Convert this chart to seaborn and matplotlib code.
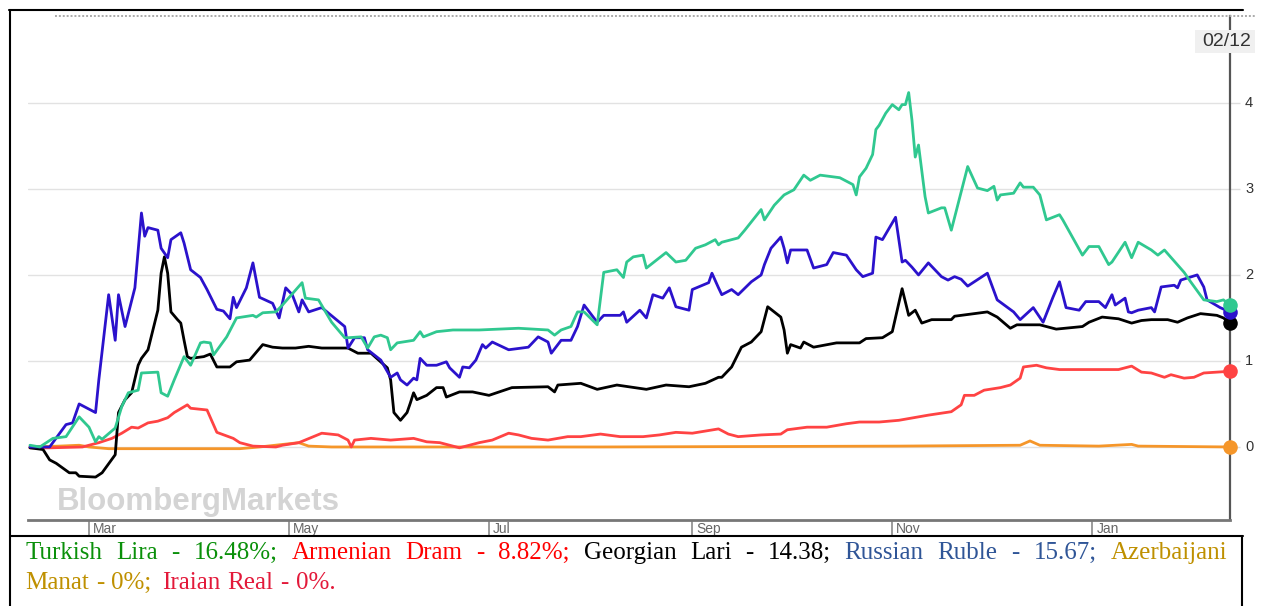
import pandas as pd
import matplotlib
matplotlib.use("Agg")
import matplotlib.pyplot as plt
import matplotlib.dates as mdates
from matplotlib.lines import Line2D
from matplotlib.patches import Rectangle
from matplotlib.transforms import Bbox, TransformedBbox, blended_transform_factory, offset_copy
import seaborn as sns

START = "2020-02-12"
END = "2021-02-12"

# days since START, value (tens of percent vs START)
lira_day = [0, 3, 7, 11, 15, 18, 20, 21, 22, 26, 28, 30, 33, 34, 39, 40, 42, 44, 47, 49,
            52, 53, 55, 56, 60, 63, 68, 69, 71, 75, 77, 83, 84, 88, 92, 96, 97, 101, 103, 105,
            107, 109, 110, 112, 117, 119, 120, 124, 129, 137, 149, 158, 160, 162, 165, 167, 169, 173, 175, 179,
            181, 182, 184, 187, 188, 194, 197, 200, 203, 206, 209, 210, 211, 216, 218, 223, 224, 227, 230, 233,
            236, 238, 241, 247, 251, 252, 253, 255, 257, 258, 259, 261, 263, 265, 266, 267, 268, 269, 270, 271,
            273, 274, 278, 279, 281, 286, 289, 292, 294, 295, 296, 300, 302, 303, 306, 308, 310, 314, 315, 321,
            323, 326, 329, 330, 334, 336, 338, 342, 344, 346, 352, 354, 358, 362, 364, 366]
lira_val = [0.02, 0.00, 0.10, 0.12, 0.35, 0.23, 0.06, 0.12, 0.09, 0.22, 0.47, 0.63, 0.66, 0.86, 0.87, 0.63, 0.59, 0.78, 1.05, 0.95,
            1.21, 1.22, 1.21, 1.07, 1.28, 1.50, 1.53, 1.51, 1.56, 1.57, 1.65, 1.91, 1.73, 1.71, 1.45, 1.27, 1.27, 1.28, 1.15, 1.28,
            1.30, 1.27, 1.13, 1.21, 1.24, 1.34, 1.28, 1.34, 1.36, 1.36, 1.38, 1.36, 1.30, 1.36, 1.40, 1.57, 1.57, 1.42, 2.03, 2.06,
            1.97, 2.15, 2.21, 2.23, 2.08, 2.26, 2.15, 2.17, 2.31, 2.35, 2.41, 2.35, 2.38, 2.43, 2.52, 2.76, 2.64, 2.81, 2.93, 2.99,
            3.16, 3.10, 3.16, 3.13, 3.05, 2.93, 3.14, 3.24, 3.40, 3.69, 3.74, 3.88, 3.98, 3.92, 3.98, 3.98, 4.12, 3.80, 3.37, 3.51,
            2.91, 2.72, 2.78, 2.78, 2.52, 3.26, 3.01, 2.98, 3.03, 2.87, 2.93, 2.95, 3.07, 3.02, 3.02, 2.93, 2.64, 2.70, 2.64, 2.23,
            2.33, 2.33, 2.12, 2.15, 2.38, 2.20, 2.38, 2.29, 2.23, 2.29, 2.03, 1.92, 1.71, 1.69, 1.71, 1.65]

dram_day = [0, 6, 16, 21, 25, 28, 31, 33, 36, 39, 42, 44, 48, 49, 54, 57, 62, 64, 68, 75,
            77, 82, 89, 94, 97, 98, 99, 104, 110, 117, 121, 125, 131, 137, 141, 146, 149, 153, 158, 164,
            168, 174, 180, 187, 192, 197, 202, 210, 213, 216, 223, 229, 231, 237, 243, 249, 253, 259, 265, 274,
            281, 284, 285, 288, 291, 296, 299, 302, 303, 307, 310, 314, 326, 332, 336, 339, 342, 346, 348, 352,
            355, 358, 362, 366]
dram_val = [-0.01, -0.01, 0.00, 0.05, 0.10, 0.16, 0.23, 0.22, 0.28, 0.30, 0.34, 0.40, 0.49, 0.45, 0.43, 0.17, 0.10, 0.05, 0.01, 0.00,
            0.02, 0.05, 0.16, 0.14, 0.08, 0.00, 0.08, 0.10, 0.08, 0.10, 0.06, 0.05, -0.01, 0.05, 0.08, 0.16, 0.14, 0.10, 0.08, 0.12,
            0.12, 0.15, 0.12, 0.12, 0.14, 0.17, 0.16, 0.21, 0.15, 0.12, 0.14, 0.15, 0.20, 0.23, 0.23, 0.27, 0.29, 0.29, 0.31, 0.37,
            0.41, 0.49, 0.60, 0.60, 0.66, 0.69, 0.72, 0.80, 0.93, 0.95, 0.92, 0.90, 0.90, 0.90, 0.94, 0.87, 0.86, 0.81, 0.84, 0.80,
            0.81, 0.86, 0.87, 0.88]

lari_day = [0, 4, 6, 8, 12, 14, 15, 20, 22, 26, 27, 29, 31, 33, 34, 36, 39, 40, 41, 42,
            43, 45, 46, 47, 48, 49, 53, 55, 57, 61, 63, 67, 71, 74, 77, 81, 85, 89, 97, 100,
            104, 109, 110, 111, 113, 115, 116, 117, 118, 121, 124, 126, 127, 131, 135, 140, 147, 158, 160, 161,
            168, 173, 179, 188, 194, 201, 206, 210, 211, 214, 217, 220, 223, 225, 229, 230, 231, 232, 235, 236,
            239, 246, 253, 255, 260, 263, 266, 268, 270, 272, 275, 281, 282, 292, 295, 299, 301, 308, 313, 321,
            323, 327, 332, 336, 339, 342, 347, 350, 353, 357, 362, 364, 366]
lari_val = [-0.01, -0.03, -0.15, -0.19, -0.30, -0.30, -0.34, -0.35, -0.30, -0.09, 0.40, 0.55, 0.63, 0.95, 1.03, 1.13, 1.59, 2.02, 2.21, 2.02,
            1.57, 1.48, 1.44, 1.24, 1.05, 1.03, 1.05, 1.08, 0.93, 0.93, 0.99, 1.01, 1.19, 1.16, 1.15, 1.15, 1.17, 1.15, 1.15, 1.09,
            1.09, 0.92, 0.78, 0.40, 0.31, 0.40, 0.51, 0.63, 0.55, 0.60, 0.69, 0.69, 0.58, 0.64, 0.64, 0.60, 0.69, 0.70, 0.64, 0.72,
            0.74, 0.67, 0.72, 0.67, 0.72, 0.70, 0.74, 0.81, 0.81, 0.93, 1.16, 1.22, 1.34, 1.63, 1.51, 1.36, 1.09, 1.19, 1.15, 1.22,
            1.16, 1.21, 1.21, 1.26, 1.27, 1.34, 1.84, 1.53, 1.59, 1.44, 1.48, 1.48, 1.52, 1.57, 1.51, 1.38, 1.42, 1.42, 1.37, 1.40,
            1.45, 1.51, 1.49, 1.44, 1.47, 1.48, 1.48, 1.45, 1.50, 1.55, 1.53, 1.50, 1.44]

ruble_day = [0, 6, 11, 13, 15, 20, 21, 24, 26, 27, 29, 32, 34, 35, 36, 39, 40, 42, 43, 46,
             47, 49, 52, 54, 57, 59, 61, 62, 63, 66, 68, 70, 74, 76, 78, 80, 82, 83, 85, 89,
             96, 97, 99, 102, 103, 107, 110, 112, 113, 115, 117, 118, 119, 121, 124, 127, 128, 131, 132, 134,
             136, 138, 139, 141, 146, 152, 155, 158, 159, 162, 165, 167, 169, 173, 175, 180, 181, 182, 186, 188,
             190, 193, 195, 197, 201, 202, 207, 208, 210, 211, 214, 216, 220, 223, 224, 226, 229, 230, 231, 232,
             237, 239, 243, 245, 249, 252, 254, 257, 258, 260, 264, 266, 267, 269, 271, 274, 278, 280, 282, 284,
             286, 292, 295, 300, 302, 306, 309, 312, 314, 316, 320, 322, 326, 328, 330, 331, 334, 335, 336, 338,
             342, 343, 345, 349, 350, 351, 356, 358, 359, 363, 366]
ruble_val = [0.00, 0.00, 0.26, 0.28, 0.50, 0.40, 0.78, 1.77, 1.24, 1.77, 1.40, 1.85, 2.72, 2.45, 2.55, 2.52, 2.31, 2.20, 2.41, 2.49,
             2.37, 2.06, 1.97, 1.83, 1.60, 1.58, 1.49, 1.74, 1.62, 1.85, 2.14, 1.74, 1.67, 1.50, 1.85, 1.77, 1.57, 1.71, 1.57, 1.62,
             1.40, 1.15, 1.27, 1.27, 1.13, 1.01, 0.81, 0.86, 0.78, 0.72, 0.80, 0.78, 1.03, 0.95, 0.95, 0.99, 0.92, 0.81, 0.93, 0.92,
             1.01, 1.19, 1.15, 1.22, 1.13, 1.16, 1.28, 1.22, 1.09, 1.24, 1.24, 1.40, 1.65, 1.45, 1.53, 1.53, 1.57, 1.45, 1.59, 1.50,
             1.77, 1.73, 1.85, 1.63, 1.59, 1.83, 1.91, 2.02, 1.85, 1.77, 1.83, 1.77, 1.92, 2.00, 2.12, 2.31, 2.44, 2.31, 2.14, 2.29,
             2.29, 2.08, 2.12, 2.26, 2.23, 2.06, 1.98, 2.02, 2.44, 2.41, 2.67, 2.15, 2.17, 2.09, 2.00, 2.14, 1.98, 1.94, 1.98, 1.95,
             1.87, 2.02, 1.71, 1.57, 1.48, 1.62, 1.45, 1.74, 1.92, 1.62, 1.59, 1.69, 1.69, 1.62, 1.77, 1.65, 1.73, 1.57, 1.56, 1.59,
             1.62, 1.57, 1.86, 1.88, 1.85, 1.94, 2.00, 1.86, 1.71, 1.62, 1.57]

manat_day = [0, 9, 15, 18, 24, 64, 70, 82, 85, 92, 174, 265, 302, 305, 308, 326, 336, 338, 366]
manat_val = [0.00, 0.01, 0.02, 0.00, -0.02, -0.02, 0.00, 0.05, 0.01, 0.00, 0.00, 0.01, 0.02, 0.07, 0.02, 0.01, 0.03, 0.01, 0.00]

series_names = ["Azerbaijani Manat", "Armenian Dram", "Georgian Lari", "Russian Ruble", "Turkish Lira"]
series_days = [manat_day, dram_day, lari_day, ruble_day, lira_day]
series_vals = [manat_val, dram_val, lari_val, ruble_val, lira_val]
line_colors = ["#f5962a", "#ff4343", "#000000", "#2b12cc", "#30c890"]

y_ticks = [0, 1, 2, 3, 4]
y_labels = ["0", "1", "2", "3", "4"]
month_ticks = ["2020-03-01", "2020-05-01", "2020-07-01", "2020-09-01", "2020-11-01", "2021-01-01"]
month_labels = ["Mar", "May", "Jul", "Sep", "Nov", "Jan"]

caption_line1 = ["Turkish Lira - 16.48%;", "Armenian Dram - 8.82%;", "Georgian Lari - 14.38;",
                 "Russian Ruble - 15.67;", "Azerbaijani"]
caption_line2 = ["Manat - 0%;", "Iraian Real - 0%."]
caption_colors1 = ["#0a900a", "#ff0000", "#000000", "#2f5597", "#bf9000"]
caption_colors2 = ["#bf9000", "#e3193a"]

W, H = 1265, 606


def fx(px):
    return px / W


def fy(py):
    return 1 - py / H


frames = []
for name, d, v in zip(series_names, series_days, series_vals):
    frames.append(pd.DataFrame({
        "date": pd.Timestamp(START) + pd.to_timedelta(d, unit="D"),
        "value": v,
        "currency": name,
    }))
df = pd.concat(frames, ignore_index=True)
palette = dict(zip(series_names, line_colors))

sns.set_style("white")
plt.rcParams["font.family"] = ["Liberation Sans", "DejaVu Sans"]

fig = plt.figure(figsize=(W / 100, H / 100), dpi=100)
ax = fig.add_axes([fx(28), fy(520), fx(1230) - fx(28), fy(16) - fy(520)])

ax.text(fx(57 - 28) / (fx(1230) - fx(28)), (fy(502) - fy(520)) / (fy(16) - fy(520)), "BloombergMarkets",
        transform=ax.transAxes, fontsize=22.5, fontweight="bold", color="#d4d4d4",
        ha="left", va="center", zorder=0)

sns.lineplot(data=df, x="date", y="value", hue="currency", hue_order=series_names,
             palette=palette, estimator=None, linewidth=2.0, legend=False, ax=ax)

last = df.groupby("currency", sort=False).tail(1)
for name in series_names:
    row = last[last["currency"] == name]
    ax.scatter(row["date"], row["value"], s=110, color=palette[name], zorder=5, clip_on=False, linewidths=0)

ax.set_xlim(mdates.date2num(pd.Timestamp(START)) - 0.6, mdates.date2num(pd.Timestamp(END)))
ax.set_ylim(-0.849, 5.01)
ax.set_xlabel("")
ax.set_ylabel("")

ax.set_yticks(y_ticks)
ax.yaxis.tick_right()
ax.tick_params(axis="y", length=7, color="#dddddd", width=1, labelright=False, labelleft=False)
ax.grid(axis="y", color="#e2e2e2", linewidth=1)
ax.grid(axis="x", visible=False)

ax.set_xticks([mdates.date2num(pd.Timestamp(m)) for m in month_ticks])
ax.tick_params(axis="x", direction="out", length=12, color="#8a8a8a", width=1.2, labelbottom=False, bottom=True)

for side in ["left", "top"]:
    ax.spines[side].set_visible(False)
ax.spines["bottom"].set_color("#777777")
ax.spines["bottom"].set_linewidth(2)
ax.spines["right"].set_color("#555555")
ax.spines["right"].set_linewidth(1.6)
ax.spines["right"].set_linestyle((0, (1, 1)))

xtrans = offset_copy(blended_transform_factory(ax.transData, ax.transAxes), fig=fig, x=4, y=-2, units="dots")
for m, lbl in zip(month_ticks, month_labels):
    ax.text(mdates.date2num(pd.Timestamp(m)), 0, lbl, transform=xtrans, ha="left", va="top",
            fontsize=10, color="#666666", family=["Liberation Sans Narrow", "Liberation Sans"])

clip = TransformedBbox(Bbox.from_extents(0, 0, fx(1255), 1), fig.transFigure)
ytrans = offset_copy(blended_transform_factory(ax.transAxes, ax.transData), fig=fig, x=15, y=0, units="dots")
for v, lbl in zip(y_ticks, y_labels):
    fig.text(1.0, v, lbl, transform=ytrans, ha="left", va="center", fontsize=10.5, color="#333333")

# date badge at top right
badge = Rectangle((fx(1195), fy(53)), fx(1255) - fx(1195), fy(30) - fy(53), transform=fig.transFigure,
                  facecolor="#f0f0f0", edgecolor="none")
fig.add_artist(badge)
bt = fig.text(fx(1202), fy(41.5), "02/12", ha="left", va="center", fontsize=14, color="#333333")
bt.set_clip_box(clip)
bt.set_clip_on(True)

# frame lines
fig.add_artist(Line2D([fx(55), fx(1255)], [fy(16), fy(16)], transform=fig.transFigure,
                      color="#aaaaaa", linewidth=1.4, linestyle=(0, (1, 1))))
fig.add_artist(Line2D([fx(9), fx(1243)], [fy(10), fy(10)], transform=fig.transFigure, color="black", linewidth=1.5))
fig.add_artist(Line2D([fx(10), fx(10)], [fy(10), fy(606)], transform=fig.transFigure, color="black", linewidth=1.5))
fig.add_artist(Line2D([fx(10), fx(1243)], [fy(536), fy(536)], transform=fig.transFigure, color="black", linewidth=1.5))
fig.add_artist(Line2D([fx(1242), fx(1242)], [fy(536), fy(606)], transform=fig.transFigure, color="black", linewidth=1.5))

# caption, first line justified
renderer = fig.canvas.get_renderer()
cap_font = dict(fontsize=18, family=["Liberation Serif", "DejaVu Serif"], va="baseline", ha="left")
words = []
for seg, col in zip(caption_line1, caption_colors1):
    for w in seg.split(" "):
        words.append(fig.text(0, fy(559), w, color=col, **cap_font))
widths = [t.get_window_extent(renderer).width for t in words]
gap = (1227 - 25 - sum(widths)) / (len(words) - 1)
x = 25
for t, w in zip(words, widths):
    t.set_x(fx(x))
    x += w + gap

x = 25
for i, (seg, col) in enumerate(zip(caption_line2, caption_colors2)):
    if i > 0:
        x += 4
    for w in seg.split(" "):
        t = fig.text(fx(x), fy(589), w, color=col, **cap_font)
        x += t.get_window_extent(renderer).width + 7

fig.savefig("out.png", dpi=100)
